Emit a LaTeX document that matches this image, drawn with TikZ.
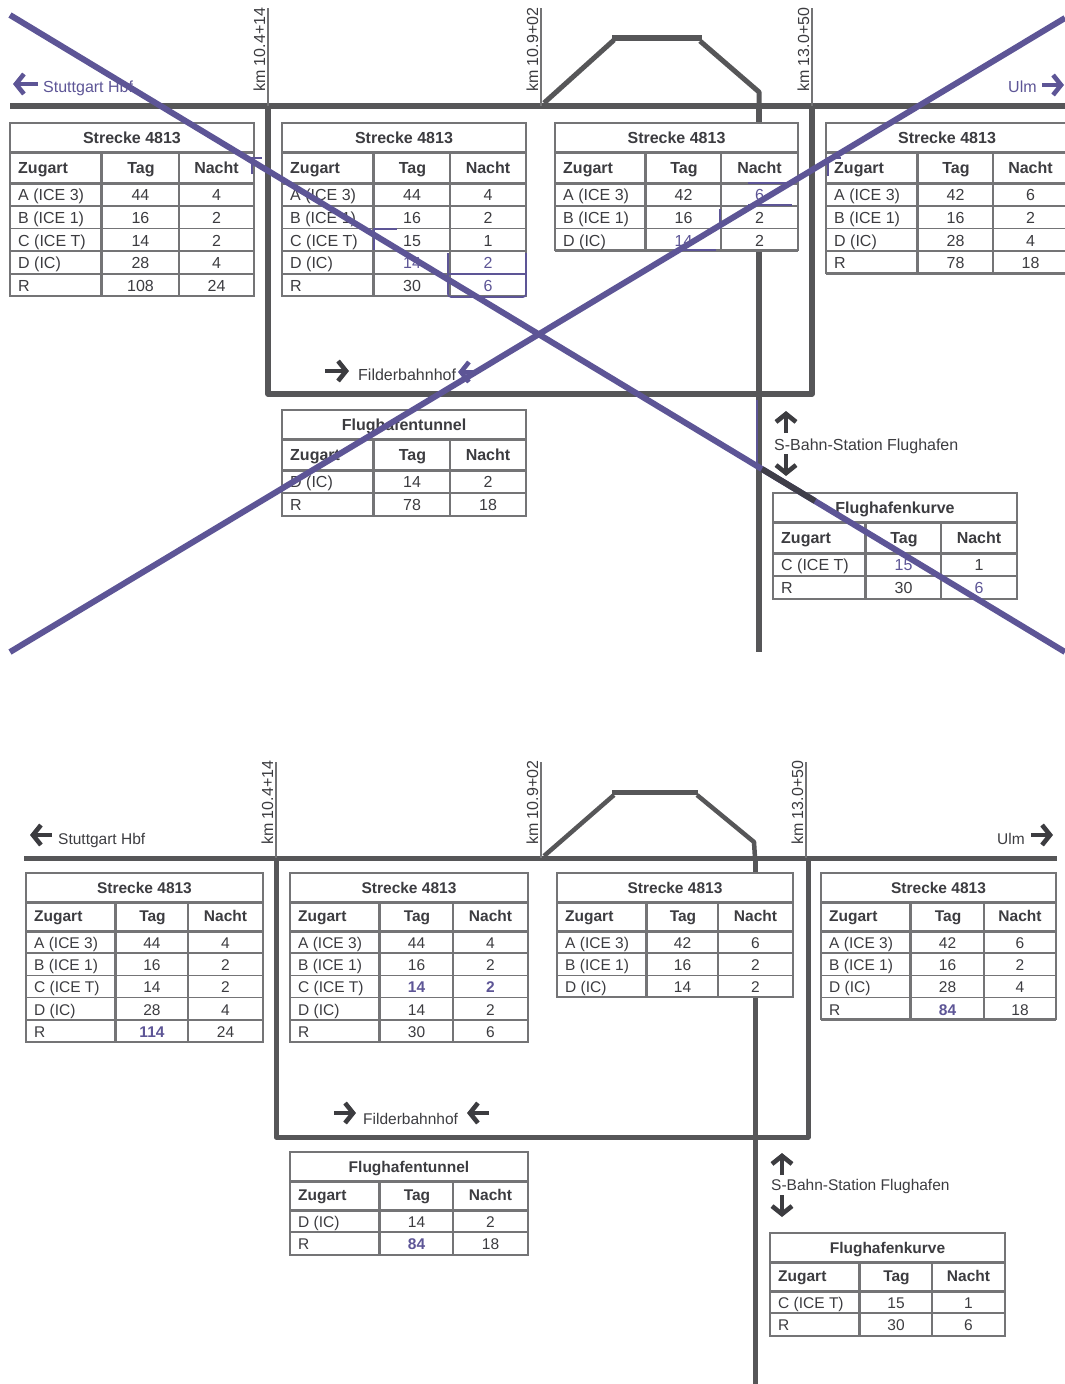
\documentclass[tikz,border=0pt]{standalone}
\usepackage{fontspec}
\setmainfont{Liberation Sans}
\usetikzlibrary{arrows.meta}
\definecolor{sbink}{HTML}{3C3C40}
\definecolor{sbgrey}{HTML}{747476}
\definecolor{sbtrack}{HTML}{565658}
\definecolor{sbviolet}{HTML}{5D5596}
\def\cellsize{16}
\def\titleh{29}
\def\headh{60}
\def\rowh{22.7}
\tikzset{
  sb track/.style={draw=sbtrack, line width=5.5pt, line join=round},
  sb km/.style={draw=sbgrey, line width=1.2pt},
  sb kmtext/.style={font=\fontsize{16}{18}\selectfont, text=sbink, rotate=90, anchor=base west, inner sep=0pt},
  sb frame/.style={draw=sbgrey, line width=2.2pt, fill=white},
  sb thick/.style={draw=sbgrey, line width=3pt},
  sb rule/.style={draw=sbgrey, line width=1.6pt},
  sb cell/.style={font=\fontsize{\cellsize}{18}\selectfont, text=sbink, inner sep=0pt, anchor=base},
  sb zug/.style={sb cell, anchor=base west},
  sb head/.style={sb cell, font=\fontsize{\cellsize}{18}\selectfont\bfseries},
  sb headzug/.style={sb head, anchor=base west},
  sb label/.style={font=\fontsize{\cellsize}{18}\selectfont, text=sbink, inner sep=0pt, anchor=base west},
  sb arrow/.style={-{Straight Barb[length=8pt,width=20pt,line width=4.6pt]}, line width=4.4pt, draw=sbink},
  sb cross/.style={draw=sbviolet, line width=6pt},
  sb mark/.style={draw=sbviolet, line width=1.1pt}
}
\newcommand{\hot}[1]{\textcolor{sbviolet}{\bfseries #1}}
\newcommand{\pur}[1]{\textcolor{sbviolet}{#1}}
\newcommand{\streckentab}[9]{%
  \pgfmathsetmacro{\yt}{#6+\titleh}
  \pgfmathsetmacro{\yh}{#6+\headh}
  \pgfmathsetmacro{\ct}{(#2+#5)/2}
  \pgfmathsetmacro{\ca}{(#3+#4)/2}
  \pgfmathsetmacro{\cb}{(#4+#5)/2}
  \draw[sb frame] (#2,#6) rectangle (#5,#7);
  \draw[sb thick] (#2,\yt) -- (#5,\yt);
  \draw[sb thick] (#2,\yh) -- (#5,\yh);
  \draw[sb thick] (#3,\yt) -- (#3,#7);
  \draw[sb rule] (#4,\yt) -- (#4,#7);
  \node[sb head] (#1-title) at (\ct,#6+20.5) {#8};
  \node[sb headzug] (#1-zugart) at (#2+8,\yh-10) {Zugart};
  \node[sb head] (#1-tag) at (\ca+1,\yh-9.5) {Tag};
  \node[sb head] (#1-nacht) at (\cb,\yh-9.5) {Nacht};
  \foreach \zug/\tg/\nacht [count=\i] in {#9} {
    \pgfmathsetmacro{\yr}{\yh+\i*\rowh}
    \pgfmathsetmacro{\yb}{\yr-\rowh+\rowh/2+6.4}
    \node[sb zug] (#1-\i-zug) at (#2+8,\yb) {\zug};
    \node[sb cell] (#1-\i-tg) at (\ca+0.5,\yb) {\tg};
    \node[sb cell] (#1-\i-nacht) at (\cb,\yb) {\nacht};
    \draw[sb rule] (#2,\yr) -- (#5,\yr);
  }
}
\begin{document}
\begin{tikzpicture}[x=1pt, y=-1pt]
  \useasboundingbox (0,0) rectangle (1065,1384);

  \coordinate (wa) at (10,106);
  \coordinate (wb) at (1065,106);
  \coordinate (ba) at (268,106);
  \coordinate (bb) at (268,394);
  \coordinate (bc) at (812,394);
  \coordinate (bd) at (812,106);
  \coordinate (sa) at (759,106);
  \coordinate (sb) at (759,652);
  \coordinate (ka) at (544,103);
  \coordinate (kb) at (614,40);
  \coordinate (kc) at (612,38);
  \coordinate (kd) at (702,38);
  \coordinate (ke) at (700,41);
  \coordinate (kf) at (759,92);
  \draw[sb track] (wa) -- (wb);
  \draw[sb track] (ba) -- (bb) -- (bc) -- (bd);
  \draw[sb track] (sa) -- (sb);
  \draw[sb track, line width=5pt] (ka) -- (kb);
  \draw[sb track] (kc) -- (kd);
  \draw[sb track, line width=5pt] (ke) -- (kf) -- (sa);
  \foreach \kx/\kt/\kn in {268/260/10.4+14, 541/533/10.9+02, 812/804/13.0+50} {
    \coordinate (km\kx a) at (\kx,8);
    \coordinate (km\kx b) at (\kx,106);
    \draw[sb km] (km\kx a) -- (km\kx b);
    \node[sb kmtext] (kmt\kx) at (\kt+5,92) {km \kn};
  }

  \streckentab{ta}{10}{101}{179}{254}{123}{296}{Strecke 4813}{A (ICE 3)/44/4, B (ICE 1)/16/2, C (ICE T)/14/2, D (IC)/28/4, R/108/24}
  \streckentab{tb}{282}{373}{450}{526}{123}{296}{Strecke 4813}{A (ICE 3)/44/4, B (ICE 1)/16/2, C (ICE T)/15/1, D (IC)/\pur{14}/\pur{2}, R/30/\pur{6}}
  \streckentab{tc}{555}{645}{721}{798}{123}{250}{Strecke 4813}{A (ICE 3)/42/\pur{6}, B (ICE 1)/16/2, D (IC)/\pur{14}/2}
  \streckentab{td}{826}{917}{993}{1068}{123}{273}{Strecke 4813}{A (ICE 3)/42/6, B (ICE 1)/16/2, D (IC)/28/4, R/78/18}
  \streckentab{te}{282}{373}{450}{526}{410}{516}{Flughafentunnel}{D (IC)/14/2, R/78/18}
  \streckentab{tf}{773}{865}{941}{1017}{493}{599}{Flughafenkurve}{C (ICE T)/\pur{15}/1, R/30/\pur{6}}

  \coordinate (pa) at (38,84);
  \coordinate (pb) at (13,84);
  \coordinate (pc) at (1042,85);
  \coordinate (pd) at (1064,85);
  \coordinate (pe) at (325,371);
  \coordinate (pf) at (349,371);
  \coordinate (pg) at (479,372);
  \coordinate (ph) at (458,372);
  \coordinate (pi) at (786,433);
  \coordinate (pj) at (786,411);
  \coordinate (pk) at (786,454);
  \coordinate (pl) at (786,476);
  \draw[sb arrow, draw=sbviolet] (pa) -- (pb);
  \draw[sb arrow, draw=sbviolet] (pc) -- (pd);
  \draw[sb arrow] (pe) -- (pf);
  \draw[sb arrow, draw=sbviolet] (pg) -- (ph);
  \draw[sb arrow] (pi) -- (pj);
  \draw[sb arrow] (pk) -- (pl);
  \node[sb label, text=sbviolet] (stgta) at (43,92) {Stuttgart Hbf};
  \node[sb label, text=sbviolet] (ulma) at (1008,92) {Ulm};
  \node[sb label] (filda) at (358,380) {Filderbahnhof};
  \node[sb label] (sbahna) at (774,450) {S-Bahn-Station Flughafen};

  \coordinate (ma) at (448,253);
  \coordinate (mb) at (448,297);
  \coordinate (mc) at (526,297);
  \coordinate (md) at (526,253);
  \coordinate (me) at (448,274);
  \coordinate (mf) at (526,274);
  \draw[sb mark, line width=1.6pt, rounded corners=3pt] (ma) -- (mb) -- (mc) -- (md);
  \draw[sb mark] (me) -- (mf);
  \foreach \ma/\mb/\mc/\md/\me in {252/174/252/158/262, 374/250/374/229/397, 828/176/828/158/841} {
    \coordinate (mk\ma a) at (\ma,\mb);
    \coordinate (mk\ma b) at (\mc,\md);
    \coordinate (mk\ma c) at (\me,\md);
    \draw[sb mark, line width=1.4pt] (mk\ma a) -- (mk\ma b) -- (mk\ma c);
  }
  \foreach \ma/\mb/\mc/\md in {748/183/792/183, 748/205/792/205, 720/209/720/229, 677/250/716/250, 757/400/757/467} {
    \coordinate (ml\ma\mb a) at (\ma,\mb);
    \coordinate (ml\ma\mb b) at (\mc,\md);
    \draw[sb mark] (ml\ma\mb a) -- (ml\ma\mb b);
  }

  \coordinate (xa) at (10,15);
  \coordinate (xb) at (1065,652);
  \coordinate (xc) at (1065,18);
  \coordinate (xd) at (10,652);
  \coordinate (xe) at (762,469);
  \coordinate (xf) at (815,501);
  \draw[sb cross] (xa) -- (xb);
  \draw[sb cross] (xc) -- (xd);
  \draw[sb cross, draw=sbink!90!sbviolet] (xe) -- (xf);

  \begin{scope}
    \def\cellsize{15.5}
    \def\headh{58}
    \def\rowh{22.2}
    \coordinate (Wa) at (24,858);
    \coordinate (Wb) at (1057,858);
    \coordinate (Ba) at (276,858);
    \coordinate (Bb) at (276,1137);
    \coordinate (Bc) at (808,1137);
    \coordinate (Bd) at (808,858);
    \coordinate (Sa) at (755,858);
    \coordinate (Sb) at (755,1384);
    \coordinate (Ka) at (544,856);
    \coordinate (Kb) at (614,795);
    \coordinate (Kc) at (612,792);
    \coordinate (Kd) at (698,792);
    \coordinate (Ke) at (697,795);
    \coordinate (Kf) at (754,842);
    \draw[sb track, line width=5pt] (Wa) -- (Wb);
    \draw[sb track, line width=5pt] (Ba) -- (Bb) -- (Bc) -- (Bd);
    \draw[sb track, line width=5pt] (Sa) -- (Sb);
    \draw[sb track, line width=4.5pt] (Ka) -- (Kb);
    \draw[sb track, line width=5pt] (Kc) -- (Kd);
    \draw[sb track, line width=4.5pt] (Ke) -- (Kf) -- (Sa);
    \foreach \kx/\kt/\kn in {276/268/10.4+14, 541/533/10.9+02, 806/798/13.0+50} {
      \coordinate (Km\kx a) at (\kx,762);
      \coordinate (Km\kx b) at (\kx,858);
      \draw[sb km] (Km\kx a) -- (Km\kx b);
      \node[sb kmtext] (Kmt\kx) at (\kt+5,845) {km \kn};
    }

    \streckentab{ua}{26}{115}{188}{263}{873}{1042}{Strecke 4813}{A (ICE 3)/44/4, B (ICE 1)/16/2, C (ICE T)/14/2, D (IC)/28/4, R/\hot{114}/24}
    \streckentab{ub}{290}{379}{453}{528}{873}{1042}{Strecke 4813}{A (ICE 3)/44/4, B (ICE 1)/16/2, C (ICE T)/\hot{14}/\hot{2}, D (IC)/14/2, R/30/6}
    \streckentab{uc}{557}{646}{718}{793}{873}{997}{Strecke 4813}{A (ICE 3)/42/6, B (ICE 1)/16/2, D (IC)/14/2}
    \streckentab{ud}{821}{910}{984}{1056}{873}{1019}{Strecke 4813}{A (ICE 3)/42/6, B (ICE 1)/16/2, D (IC)/28/4, R/\hot{84}/18}
    \streckentab{ue}{290}{379}{453}{528}{1152}{1255}{Flughafentunnel}{D (IC)/14/2, R/\hot{84}/18}
    \streckentab{uf}{770}{859}{932}{1005}{1233}{1336}{Flughafenkurve}{C (ICE T)/15/1, R/30/6}

    \coordinate (Pa) at (52,835);
    \coordinate (Pb) at (30,835);
    \coordinate (Pc) at (1031,835);
    \coordinate (Pd) at (1053,835);
    \coordinate (Pe) at (334,1113);
    \coordinate (Pf) at (356,1113);
    \coordinate (Pg) at (489,1113);
    \coordinate (Ph) at (467,1113);
    \coordinate (Pi) at (782,1175);
    \coordinate (Pj) at (782,1153);
    \coordinate (Pk) at (782,1195);
    \coordinate (Pl) at (782,1217);
    \foreach \pfa/\pfb in {Pa/Pb, Pc/Pd, Pe/Pf, Pg/Ph, Pi/Pj, Pk/Pl} {
      \draw[sb arrow] (\pfa) -- (\pfb);
    }
    \node[sb label] (stgtb) at (58,844) {Stuttgart Hbf};
    \node[sb label] (ulmb) at (997,844) {Ulm};
    \node[sb label] (fildb) at (363,1124) {Filderbahnhof};
    \node[sb label] (sbahnb) at (771,1190) {S-Bahn-Station Flughafen};
  \end{scope}
\end{tikzpicture}
\end{document}
